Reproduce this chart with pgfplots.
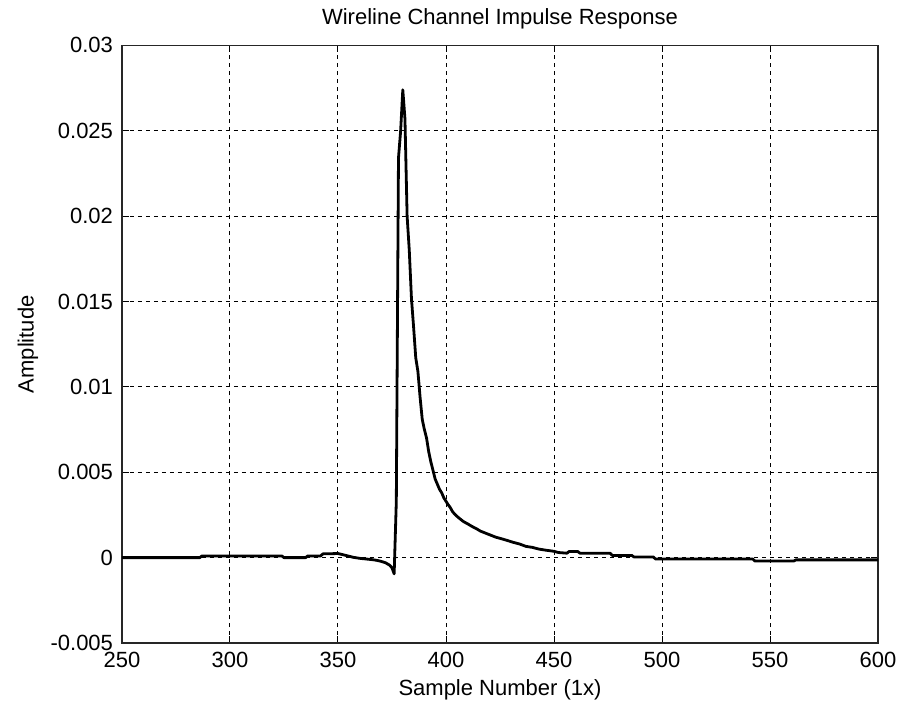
\documentclass[border=0pt]{standalone}
\usepackage{pgfplots}
\pgfplotsset{compat=1.18}
\usepackage{fontspec}
\setmainfont{Liberation Sans}
\newcommand{\lblfont}{\fontsize{11bp}{13bp}\selectfont}

\begin{document}
\begin{tikzpicture}
% fixed page box around the plot area (plot area lower-left at the origin)
\path[use as bounding box] (-61bp,-30.5bp) rectangle (392bp,321.5bp);
\begin{axis}[
  scale only axis,
  width=378bp, height=298.8bp,
  xmin=250, xmax=600,
  ymin=-0.005, ymax=0.03,
  xtick={250,300,...,600},
  ytick={-0.005,0,0.005,0.01,0.015,0.02,0.025,0.03},
  yticklabels={-0.005,0,0.005,0.01,0.015,0.02,0.025,0.03},
  scaled y ticks=false,
  /pgf/number format/assume math mode=true,
  tick align=inside,
  major tick length=3.5bp,
  tick style={black, line width=0.5bp},
  axis line style={black!85, line width=0.6bp},
  grid=major,
  major grid style={black, line width=0.5bp, dash pattern=on 2.2bp off 1.8bp},
  ticklabel style={font=\lblfont},
  xticklabel style={yshift=-1bp},
  yticklabel style={xshift=-1bp},
  title={Wireline Channel Impulse Response},
  title style={font=\lblfont, anchor=base, yshift=4.5bp},
  xlabel={Sample Number (1x)},
  xlabel style={font=\lblfont, at={(rel axis cs:0.5,0)}, anchor=center, yshift=-23.5bp},
  ylabel={Amplitude},
  ylabel style={font=\lblfont, at={(rel axis cs:0,0.5)}, anchor=center, yshift=47bp},
]
\addplot[black, line width=1.4bp, line join=round] table {
x y
250 0
286 0
287 0.0001
324 0.0001
325 0
335 0
336 0.0001
342 0.0001
343 0.00022
350 0.00024
353 0.00015
357 0.00002
360 -0.00004
363 -0.00008
366 -0.00012
368 -0.00016
370 -0.00022
372 -0.0003
374 -0.00045
375 -0.0006
376 -0.00095
377 0.0033
378 0.0234
379 0.0250
380 0.0274
381 0.0257
382 0.0200
383 0.0180
384 0.0152
385 0.0135
386 0.0117
387 0.0109
388 0.0094
389 0.0081
390 0.0075
391 0.0070
392 0.0062
393 0.0056
394 0.0051
395 0.0046
396 0.0043
397 0.0040
398 0.0038
399 0.0035
400 0.0033
401 0.0031
402 0.00293
403 0.0027
404 0.00255
405 0.00243
406 0.00232
408 0.00212
410 0.00198
412 0.00183
414 0.0017
416 0.00155
418 0.00145
420 0.00135
423 0.0012
425 0.00113
428 0.00102
431 0.0009
434 0.0008
437 0.00066
440 0.0006
443 0.0005
446 0.00044
450 0.00037
452 0.0003
456 0.00026
457 0.00036
461 0.00036
462 0.00026
476 0.00026
477 0.00013
486 0.00013
487 0.00004
496 0.00004
497 -0.00008
542 -0.00008
543 -0.0002
561 -0.0002
562 -0.00013
600 -0.00013
};
\end{axis}
\end{tikzpicture}
\end{document}
